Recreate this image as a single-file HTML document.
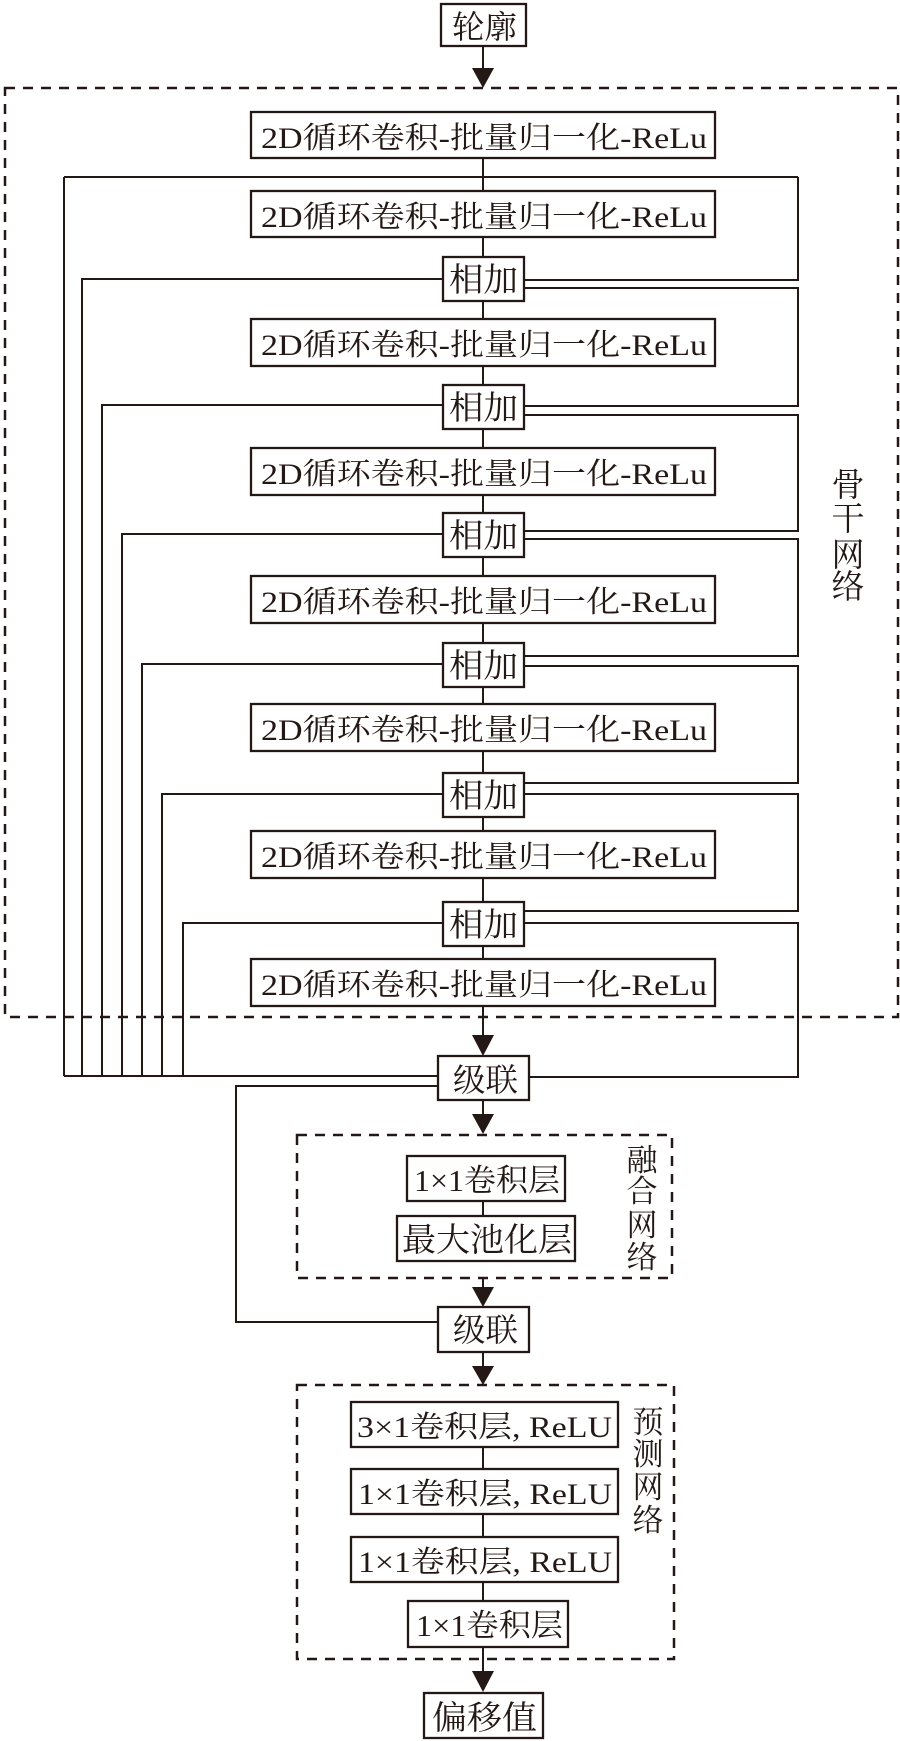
<!DOCTYPE html>
<html>
<head>
<meta charset="utf-8">
<style>
html,body{margin:0;padding:0;background:#fff;}
svg{display:block;}
text{font-family:"Liberation Serif","Noto Serif CJK SC",serif;fill:#231815;}
</style>
</head>
<body>
<svg width="900" height="1741" viewBox="0 0 900 1741" xmlns="http://www.w3.org/2000/svg">
<!-- dashed groups -->
<g fill="none" stroke="#231815" stroke-width="2.5" stroke-dasharray="10 8">
  <rect x="5" y="88" width="893" height="929"/>
  <rect x="297" y="1135" width="375" height="143"/>
  <rect x="297" y="1385" width="377" height="274"/>
</g>

<!-- connector lines -->
<g fill="none" stroke="#231815" stroke-width="2">
  <!-- top -->
  <path d="M483 46 V70"/>
  <path d="M483 158 V191"/>
  <path d="M64 177 H798"/>
  <path d="M798 177 V280 H524"/>
  <path d="M483 237 V257"/>
  <!-- center chain -->
  <path d="M483 301 V319"/>
  <path d="M483 366 V385"/>
  <path d="M483 429 V448"/>
  <path d="M483 495 V513"/>
  <path d="M483 557 V576"/>
  <path d="M483 623 V643"/>
  <path d="M483 687 V704"/>
  <path d="M483 751 V773"/>
  <path d="M483 817 V831"/>
  <path d="M483 878 V902"/>
  <path d="M483 946 V959"/>
  <!-- left skip lines -->
  <path d="M64 177 V1076"/>
  <path d="M443 279 H82 V1076"/>
  <path d="M443 405 H102 V1076"/>
  <path d="M443 534 H122 V1076"/>
  <path d="M443 664 H142 V1076"/>
  <path d="M443 794 H162 V1076"/>
  <path d="M443 923 H183 V1076"/>
  <path d="M64 1076 H438"/>
  <!-- right skip lines -->
  <path d="M524 288 H798 V406 H524"/>
  <path d="M524 415 H798 V531 H524"/>
  <path d="M524 539 H798 V656 H524"/>
  <path d="M524 666 H798 V783 H524"/>
  <path d="M524 794 H798 V911 H524"/>
  <path d="M524 923 H798 V1077 H529"/>
  <!-- lower -->
  <path d="M483 1006 V1037"/>
  <path d="M483 1100 V1116"/>
  <path d="M438 1086 H236 V1322 H438"/>
  <path d="M483 1201 V1216"/>
  <path d="M483 1278 V1289"/>
  <path d="M483 1352 V1369"/>
  <path d="M483 1447 V1469"/>
  <path d="M483 1514 V1537"/>
  <path d="M483 1582 V1601"/>
  <path d="M483 1647 V1673"/>
</g>

<!-- arrowheads -->
<g fill="#231815" stroke="none">
  <polygon points="472,68 494,68 483,88"/>
  <polygon points="472,1035 494,1035 483,1056"/>
  <polygon points="472,1114 494,1114 483,1134"/>
  <polygon points="472,1287 494,1287 483,1307"/>
  <polygon points="472,1366 494,1366 483,1385"/>
  <polygon points="472,1671 494,1671 483,1692"/>
</g>

<!-- boxes -->
<g fill="#fff" stroke="#231815" stroke-width="2.3">
  <rect x="441" y="4" width="85" height="42"/>
  <rect x="251" y="112" width="464" height="46"/>
  <rect x="251" y="191" width="464" height="46"/>
  <rect x="443" y="257" width="81" height="44"/>
  <rect x="251" y="319" width="464" height="47"/>
  <rect x="443" y="385" width="81" height="44"/>
  <rect x="251" y="448" width="464" height="47"/>
  <rect x="443" y="513" width="81" height="44"/>
  <rect x="251" y="576" width="464" height="47"/>
  <rect x="443" y="643" width="81" height="44"/>
  <rect x="251" y="704" width="464" height="47"/>
  <rect x="443" y="773" width="81" height="44"/>
  <rect x="251" y="831" width="464" height="47"/>
  <rect x="443" y="902" width="81" height="44"/>
  <rect x="251" y="959" width="464" height="47"/>
  <rect x="438" y="1056" width="91" height="44"/>
  <rect x="407" y="1156" width="158" height="45"/>
  <rect x="397" y="1216" width="178" height="45"/>
  <rect x="438" y="1307" width="91" height="45"/>
  <rect x="351" y="1402" width="267" height="45"/>
  <rect x="351" y="1469" width="267" height="45"/>
  <rect x="351" y="1537" width="267" height="45"/>
  <rect x="408" y="1601" width="160" height="46"/>
  <rect x="424" y="1693" width="119" height="45"/>
</g>

<!-- box labels -->
<g>
  <text x="452" y="38" font-size="32" textLength="65" lengthAdjust="spacingAndGlyphs">轮廓</text>

  <text x="261" y="148" font-size="30" textLength="446" lengthAdjust="spacingAndGlyphs">2D循环卷积-批量归一化-ReLu</text>
  <text x="261" y="227" font-size="30" textLength="446" lengthAdjust="spacingAndGlyphs">2D循环卷积-批量归一化-ReLu</text>
  <text x="261" y="355" font-size="30" textLength="446" lengthAdjust="spacingAndGlyphs">2D循环卷积-批量归一化-ReLu</text>
  <text x="261" y="484" font-size="30" textLength="446" lengthAdjust="spacingAndGlyphs">2D循环卷积-批量归一化-ReLu</text>
  <text x="261" y="612" font-size="30" textLength="446" lengthAdjust="spacingAndGlyphs">2D循环卷积-批量归一化-ReLu</text>
  <text x="261" y="740" font-size="30" textLength="446" lengthAdjust="spacingAndGlyphs">2D循环卷积-批量归一化-ReLu</text>
  <text x="261" y="867" font-size="30" textLength="446" lengthAdjust="spacingAndGlyphs">2D循环卷积-批量归一化-ReLu</text>
  <text x="261" y="995" font-size="30" textLength="446" lengthAdjust="spacingAndGlyphs">2D循环卷积-批量归一化-ReLu</text>

  <text x="449" y="291" font-size="33" textLength="69" lengthAdjust="spacingAndGlyphs">相加</text>
  <text x="449" y="419" font-size="33" textLength="69" lengthAdjust="spacingAndGlyphs">相加</text>
  <text x="449" y="547" font-size="33" textLength="69" lengthAdjust="spacingAndGlyphs">相加</text>
  <text x="449" y="677" font-size="33" textLength="69" lengthAdjust="spacingAndGlyphs">相加</text>
  <text x="449" y="807" font-size="33" textLength="69" lengthAdjust="spacingAndGlyphs">相加</text>
  <text x="449" y="936" font-size="33" textLength="69" lengthAdjust="spacingAndGlyphs">相加</text>

  <text x="453" y="1091" font-size="32" textLength="65" lengthAdjust="spacingAndGlyphs">级联</text>
  <text x="414" y="1191" font-size="31" textLength="146" lengthAdjust="spacingAndGlyphs">1×1卷积层</text>
  <text x="402" y="1251" font-size="33" textLength="170" lengthAdjust="spacingAndGlyphs">最大池化层</text>
  <text x="453" y="1341" font-size="32" textLength="65" lengthAdjust="spacingAndGlyphs">级联</text>

  <text x="357" y="1437" font-size="30" textLength="255" lengthAdjust="spacingAndGlyphs">3×1卷积层, ReLU</text>
  <text x="358" y="1504" font-size="30" textLength="254" lengthAdjust="spacingAndGlyphs">1×1卷积层, ReLU</text>
  <text x="358" y="1572" font-size="30" textLength="254" lengthAdjust="spacingAndGlyphs">1×1卷积层, ReLU</text>
  <text x="416" y="1636" font-size="31" textLength="147" lengthAdjust="spacingAndGlyphs">1×1卷积层</text>
  <text x="432" y="1729" font-size="33" textLength="105" lengthAdjust="spacingAndGlyphs">偏移值</text>
</g>

<!-- vertical labels -->
<g text-anchor="middle">
  <text x="848" y="496" font-size="33">骨</text>
  <text x="848" y="530" font-size="33">干</text>
  <text x="848" y="566" font-size="33">网</text>
  <text x="848" y="598" font-size="33">络</text>

  <text x="642" y="1171" font-size="31">融</text>
  <text x="642" y="1202" font-size="31">合</text>
  <text x="642" y="1236" font-size="31">网</text>
  <text x="642" y="1268" font-size="31">络</text>

  <text x="648" y="1433" font-size="31">预</text>
  <text x="648" y="1465" font-size="31">测</text>
  <text x="648" y="1498" font-size="31">网</text>
  <text x="648" y="1531" font-size="31">络</text>
</g>
</svg>
</body>
</html>
